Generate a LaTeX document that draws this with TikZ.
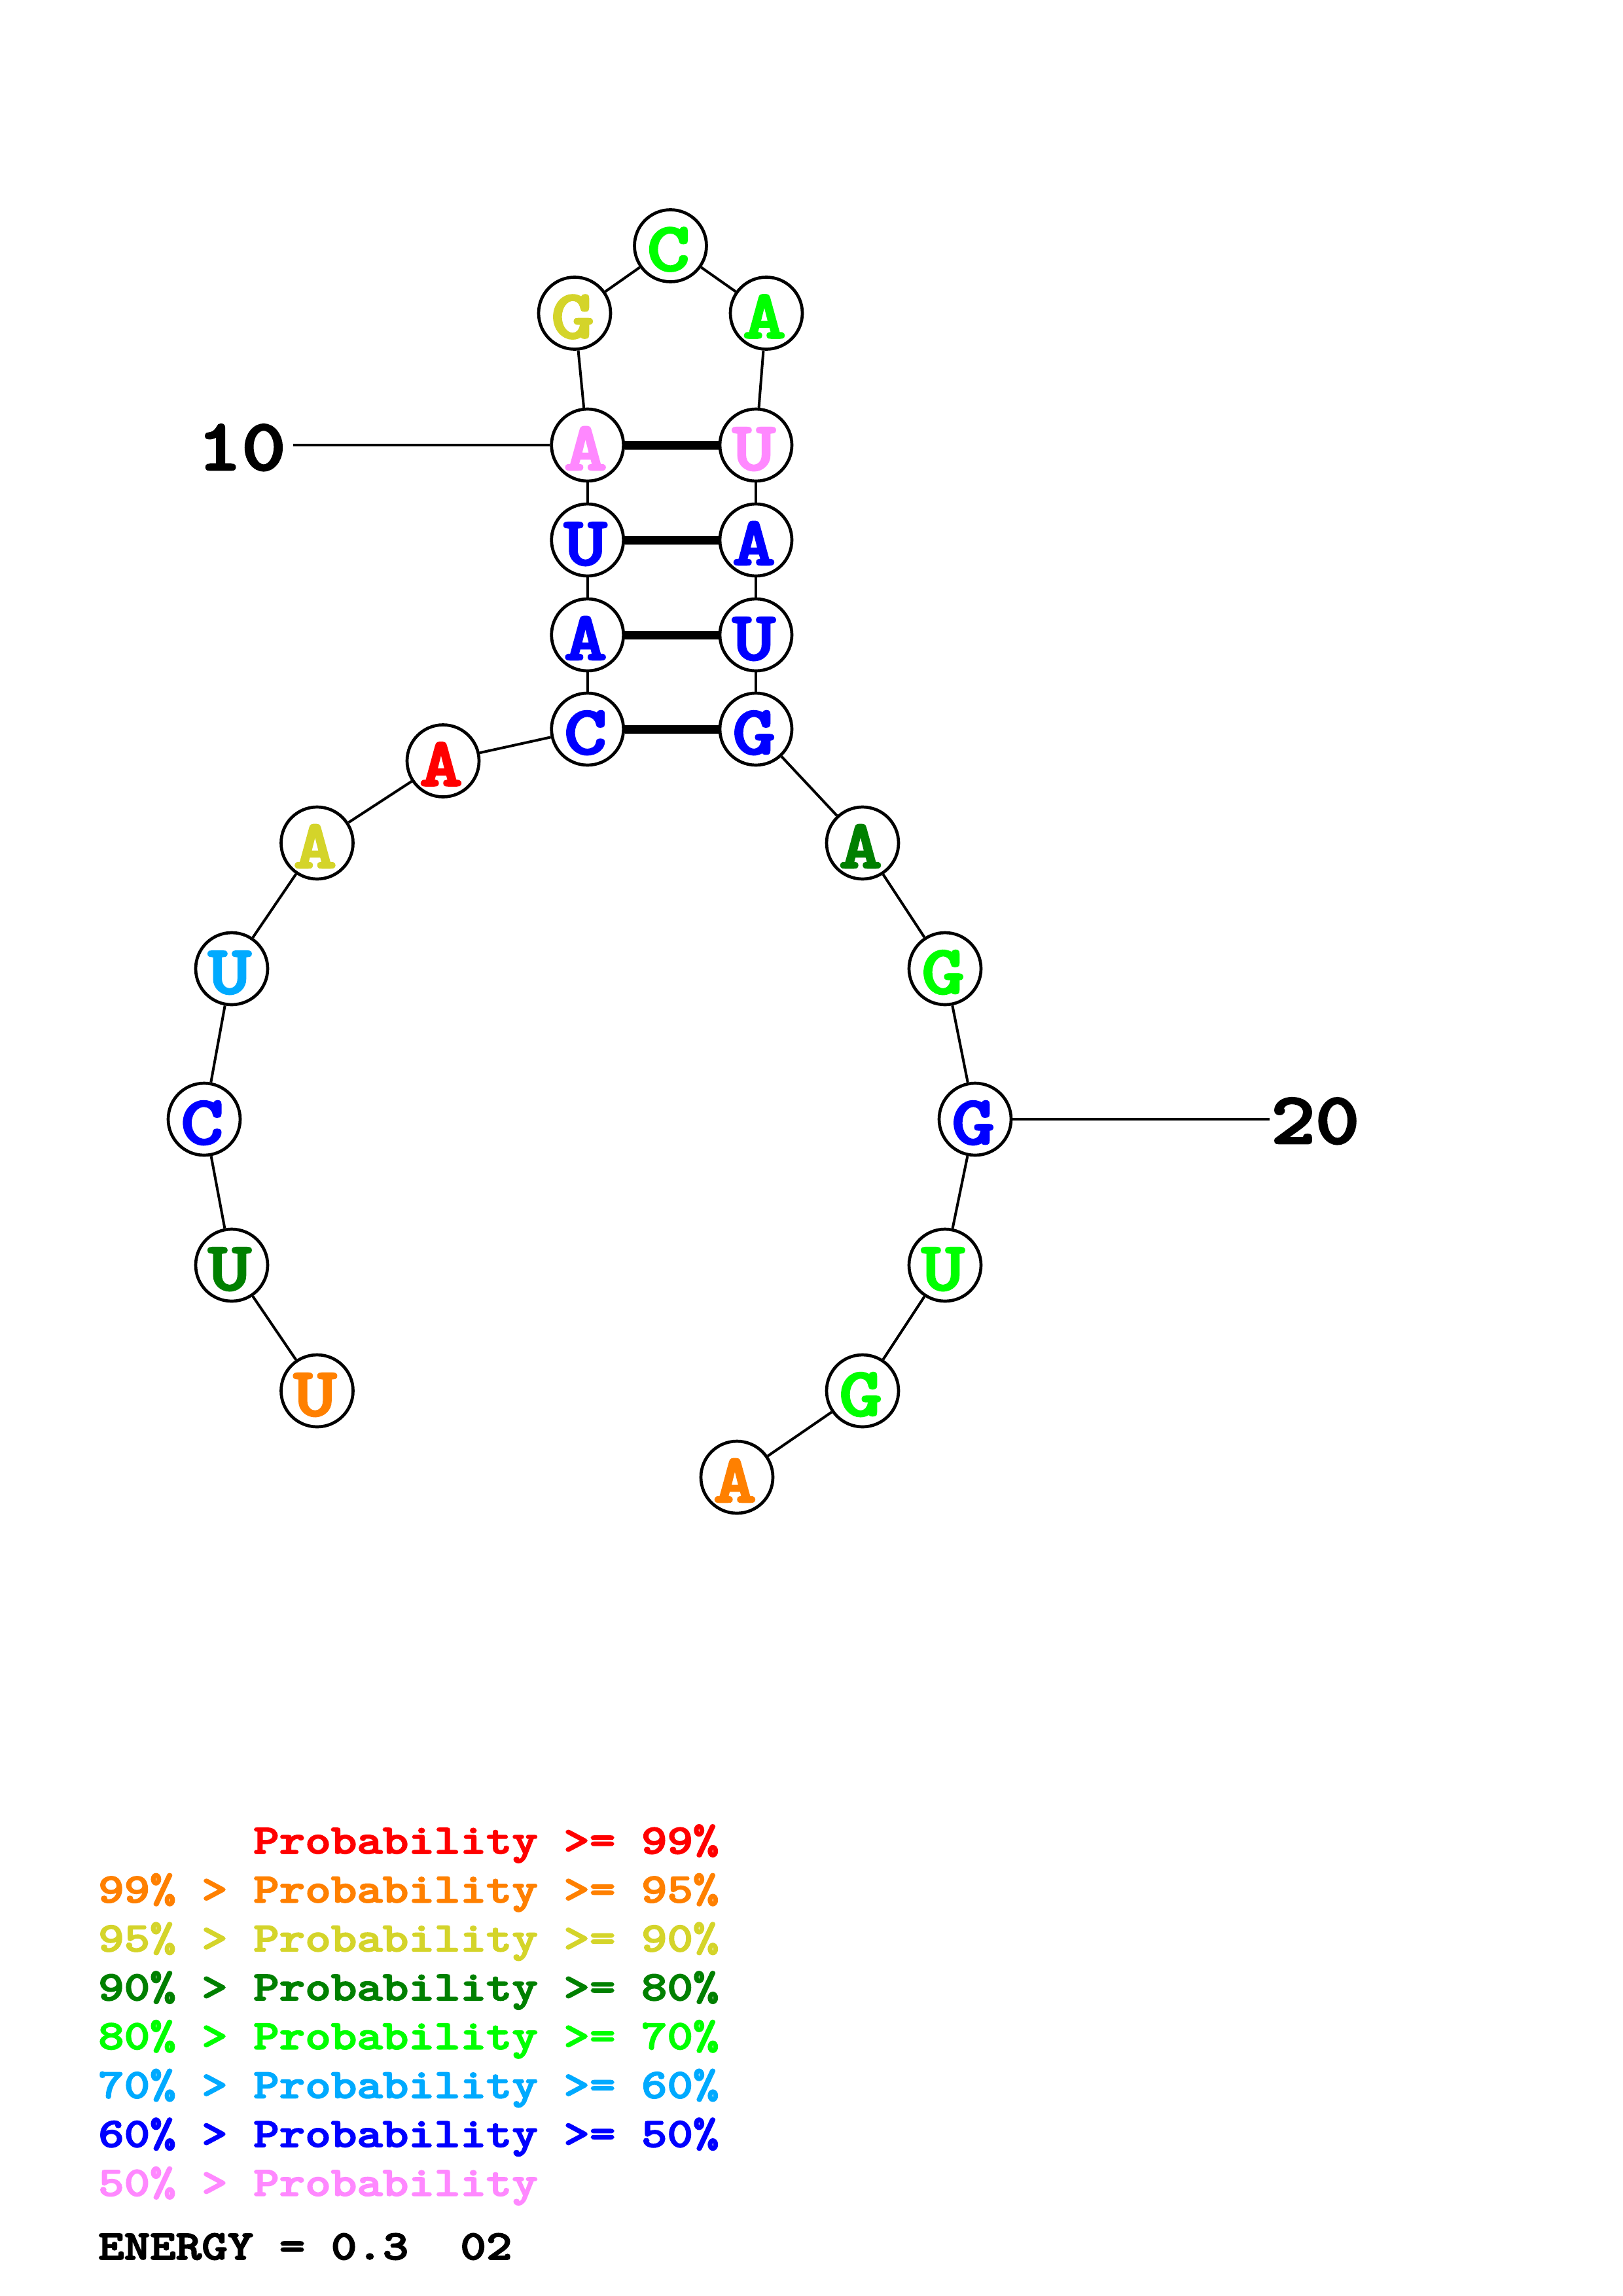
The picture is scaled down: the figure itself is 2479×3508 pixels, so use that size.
\documentclass[tikz,border=0pt]{standalone}
\usepackage{graphicx}
\usepackage{fontspec}
\newfontfamily\cbf{lmmonolt10-bold.otf}[FakeBold=2.5]
\definecolor{pr}{RGB}{255,0,0}
\definecolor{po}{RGB}{255,128,0}
\definecolor{py}{RGB}{212,212,42}
\definecolor{pdg}{RGB}{0,128,0}
\definecolor{pg}{RGB}{0,255,0}
\definecolor{pc}{RGB}{0,170,255}
\definecolor{pb}{RGB}{0,0,255}
\definecolor{pp}{RGB}{255,136,255}
\newcommand{\ntxt}[2]{\makebox[0pt]{\hspace*{-6pt}\smash{\raisebox{-38pt}{\textcolor{#1}{\fontsize{106}{106}\selectfont\cbf\scalebox{1.18}[1]{#2}}}}}}
\newcommand{\numtxt}[1]{\fontsize{112}{112}\selectfont\cbf\scalebox{1.15}[1]{#1}}
\newcommand{\legtxt}[2]{\textcolor{#1}{\fontsize{64}{64}\selectfont\cbf\scalebox{1.176}[1]{#2}}}
\tikzset{
  nt/.style={circle, draw=black, line width=4.7pt, fill=white, minimum size=110pt, inner sep=0pt},
  bb/.style={line width=4pt},
  bp/.style={line width=13pt},
  leg/.style={anchor=base west, inner sep=0pt},
}
\begin{document}
\begin{tikzpicture}[x=1pt,y=-1pt]
\useasboundingbox (0,0) rectangle (2479,3508);
\fill[white] (0,0) rectangle (2479,3508);
% nucleotides
\node[nt] (n1)  at (484.5,2125) {\ntxt{po}{U}};
\node[nt] (n2)  at (354,1933)   {\ntxt{pdg}{U}};
\node[nt] (n3)  at (312,1710)   {\ntxt{pb}{C}};
\node[nt] (n4)  at (354,1480)   {\ntxt{pc}{U}};
\node[nt] (n5)  at (484.5,1288) {\ntxt{py}{A}};
\node[nt] (n6)  at (677,1162.5) {\ntxt{pr}{A}};
\node[nt] (n7)  at (897.7,1114) {\ntxt{pb}{C}};
\node[nt] (n8)  at (897.7,970)  {\ntxt{pb}{A}};
\node[nt] (n9)  at (897.7,825)  {\ntxt{pb}{U}};
\node[nt] (n10) at (897.7,680)  {\ntxt{pp}{A}};
\node[nt] (n11) at (878,478.5)  {\ntxt{py}{G}};
\node[nt] (n12) at (1024.5,375.5) {\ntxt{pg}{C}};
\node[nt] (n13) at (1171,478.5) {\ntxt{pg}{A}};
\node[nt] (n14) at (1155,680)   {\ntxt{pp}{U}};
\node[nt] (n15) at (1155,825)   {\ntxt{pb}{A}};
\node[nt] (n16) at (1155,970)   {\ntxt{pb}{U}};
\node[nt] (n17) at (1155,1114)  {\ntxt{pb}{G}};
\node[nt] (n18) at (1318,1288)  {\ntxt{pdg}{A}};
\node[nt] (n19) at (1444,1480)  {\ntxt{pg}{G}};
\node[nt] (n20) at (1490,1710)  {\ntxt{pb}{G}};
\node[nt] (n21) at (1444,1933)  {\ntxt{pg}{U}};
\node[nt] (n22) at (1318,2125)  {\ntxt{pg}{G}};
\node[nt] (n23) at (1126,2257)  {\ntxt{po}{A}};
% backbone
\foreach \a/\b in {1/2,2/3,3/4,4/5,5/6,6/7,7/8,8/9,9/10,10/11,11/12,12/13,13/14,14/15,15/16,16/17,17/18,18/19,19/20,20/21,21/22,22/23}
  \draw[bb] (n\a) -- (n\b);
% pairs
\draw[bp] (n10) -- (n14);
\draw[bp] (n9) -- (n15);
\draw[bp] (n8) -- (n16);
\draw[bp] (n7) -- (n17);
% position labels
\coordinate (c10) at (448,680);
\coordinate (c20) at (1940,1710);
\draw[bb] (c10) -- (n10);
\draw[bb] (n20) -- (c20);
\node[anchor=base east, inner sep=0pt] (t10) at (437,718) {\numtxt{10}};
\node[anchor=base west, inner sep=0pt] (t20) at (1942,1747) {\numtxt{20}};
% legend
\node[leg] (g1) at (150,2832)   {\legtxt{pr}{\ \ \ \ \ \ Probability\ >=\ 99\%}};
\node[leg] (g2) at (150,2906.7) {\legtxt{po}{99\%\ >\ Probability\ >=\ 95\%}};
\node[leg] (g3) at (150,2981.4) {\legtxt{py}{95\%\ >\ Probability\ >=\ 90\%}};
\node[leg] (g4) at (150,3056.1) {\legtxt{pdg}{90\%\ >\ Probability\ >=\ 80\%}};
\node[leg] (g5) at (150,3130.8) {\legtxt{pg}{80\%\ >\ Probability\ >=\ 70\%}};
\node[leg] (g6) at (150,3205.5) {\legtxt{pc}{70\%\ >\ Probability\ >=\ 60\%}};
\node[leg] (g7) at (150,3280.2) {\legtxt{pb}{60\%\ >\ Probability\ >=\ 50\%}};
\node[leg] (g8) at (150,3354.9) {\legtxt{pp}{50\%\ >\ Probability}};
\node[leg] (g9) at (150,3452)   {\legtxt{black}{ENERGY\ =\ 0.3\ \ 02}};
\end{tikzpicture}
\end{document}
